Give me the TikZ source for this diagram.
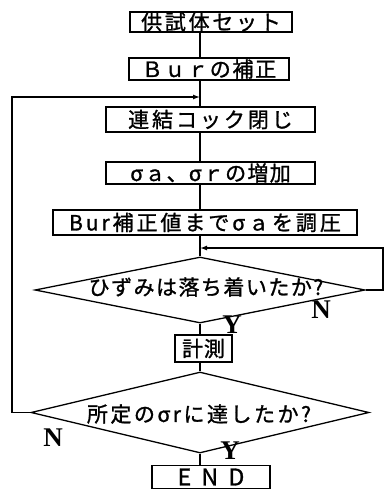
\documentclass[tikz,border=0pt]{standalone}
\usepackage{fontspec}
\setmainfont{Liberation Serif}
\newfontfamily\jp{Noto Sans CJK JP}[FakeBold=1.2]
\usetikzlibrary{shapes.geometric,arrows.meta}
\begin{document}
\begin{tikzpicture}[x=1pt,y=-1pt,line width=1.3pt,
  box/.style={draw,rectangle,inner sep=0pt,font=\jp\fontsize{21}{21}\selectfont},
  dia/.style={draw,diamond,inner sep=0pt,aspect=5},
  dtext/.style={font=\jp\fontsize{21}{21}\selectfont,inner sep=0pt},
  yn/.style={font=\fontsize{27}{27}\selectfont\bfseries,inner sep=0pt},
  arr/.style={-{Latex[length=7pt,width=5pt]}}]
\useasboundingbox (0,0) rectangle (385,489);
\coordinate (sp) at (200,0);
\node[box,minimum width=162,minimum height=20] (b1) at (211,22) {\addfontfeature{LetterSpace=13}供試体セット};
\node[box,minimum width=160,minimum height=22] (b2) at (209,69) {\addfontfeature{LetterSpace=8}Ｂｕｒの補正};
\node[box,minimum width=209,minimum height=25] (b3) at (210.5,119.5) {\addfontfeature{LetterSpace=14}連結コック閉じ};
\node[box,minimum width=209,minimum height=22] (b4) at (210.5,173) {\addfontfeature{LetterSpace=6}σａ、σｒの増加};
\node[box,minimum width=304,minimum height=25] (b5) at (205,222.5) {\addfontfeature{LetterSpace=14}Bur補正値までσａを調圧};
\node[dia,minimum width=330,minimum height=66] (d1) at (200,290) {};
\node[dtext] at (206,287) {\addfontfeature{LetterSpace=7}ひずみは落ち着いたか?};
\node[box,minimum width=57,minimum height=27] (b6) at (203.5,348.5) {\addfontfeature{LetterSpace=4}計測};
\node[dia,minimum width=338,minimum height=81] (d2) at (200,412.5) {};
\node[dtext] at (199,414) {\addfontfeature{LetterSpace=12}所定のσrに達したか?};
\node[box,minimum width=118,minimum height=23] (b7) at (211,477) {\fontsize{23}{23}\selectfont E\hspace{0.45em}N\hspace{0.45em}D};
\node[yn] (n1) at (321,310) {N};
\node[yn] (y1) at (232,325) {Y};
\node[yn] (n2) at (53,438) {N};
\node[yn] (y2) at (230,451) {Y};
\coordinate (loopin) at (200,97);
\coordinate (retin) at (200,248);
\coordinate (rr) at (383,290);
\coordinate (ll) at (12,412.5);
\draw (b1.south -| sp) -- (b2.north -| sp);
\draw (b2.south -| sp) -- (b3.north -| sp);
\draw (b3.south -| sp) -- (b4.north -| sp);
\draw (b4.south -| sp) -- (b5.north -| sp);
\draw (b5.south -| sp) -- (d1.north);
\draw (d1.south) -- (b6.north -| sp);
\draw (b6.south -| sp) -- (d2.north);
\draw (d2.south) -- (b7.north -| sp);
\draw[arr] (d1.east) -- (rr) -- (rr |- retin) -- (retin);
\draw[arr] (d2.west) -- (ll) -- (ll |- loopin) -- (loopin);
\end{tikzpicture}
\end{document}
